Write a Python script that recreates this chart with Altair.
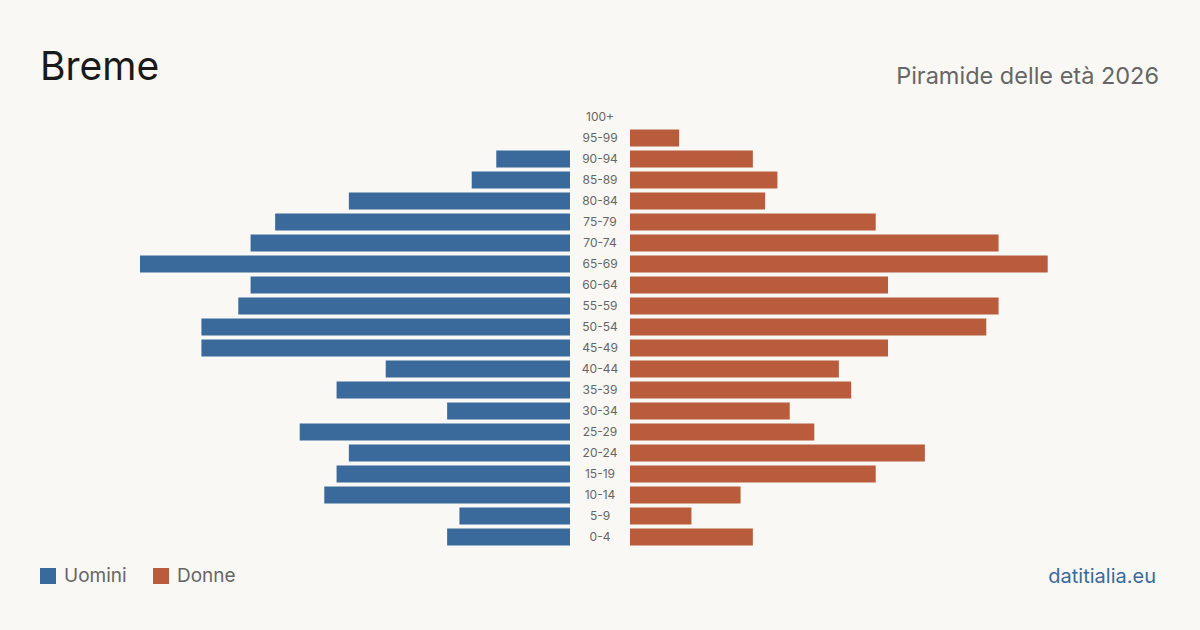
import altair as alt
import pandas as pd

ages = ["100+", "95-99", "90-94", "85-89", "80-84", "75-79", "70-74", "65-69", "60-64",
        "55-59", "50-54", "45-49", "40-44", "35-39", "30-34", "25-29", "20-24", "15-19",
        "10-14", "5-9", "0-4"]
uomini = [0, 0, 6, 8, 18, 24, 26, 35, 26, 27, 30, 30, 15, 19, 10, 22, 18, 19, 20, 9, 10]
donne = [0, 4, 10, 12, 11, 20, 30, 34, 21, 30, 29, 21, 17, 18, 13, 15, 24, 20, 9, 5, 10]

BLUE = "#3a6a9c"
ORANGE = "#b85c3c"
BG = "#f9f8f4"
GRAY = "#666666"
FONT = "Inter"

df = pd.DataFrame({"eta": ages, "uomini": uomini, "donne": donne})

PX = 430 / 35
XMAX = 570 / PX
H = 630
yenc = alt.Y("eta:N", sort=ages, axis=None,
             scale=alt.Scale(range=[106.5, 547.5], paddingInner=0.19, paddingOuter=0.095))

base = alt.Chart(df)

left_bars = base.mark_bar(color=BLUE).encode(
    x=alt.X("uomini:Q", axis=None, scale=alt.Scale(domain=[0, XMAX], reverse=True, nice=False)),
    y=yenc,
)

one = pd.DataFrame({"a": [0]})
title = alt.Chart(one).mark_text(text="Breme", font=FONT, fontSize=39, color="#1a1a1a",
                                 align="left", baseline="alphabetic").encode(
    x=alt.value(40), y=alt.value(80))
leg1 = alt.Chart(one).mark_rect(color=BLUE).encode(
    x=alt.value(40), x2=alt.value(56), y=alt.value(568), y2=alt.value(584))
leg1t = alt.Chart(one).mark_text(text="Uomini", font=FONT, fontSize=19, color=GRAY,
                                 align="left", baseline="middle").encode(
    x=alt.value(64), y=alt.value(576))
leg2 = alt.Chart(one).mark_rect(color=ORANGE).encode(
    x=alt.value(153), x2=alt.value(169), y=alt.value(568), y2=alt.value(584))
leg2t = alt.Chart(one).mark_text(text="Donne", font=FONT, fontSize=19, color=GRAY,
                                 align="left", baseline="middle").encode(
    x=alt.value(177), y=alt.value(576))

left = alt.layer(left_bars, title, leg1, leg1t, leg2, leg2t).properties(width=570, height=H)

mid = base.mark_text(font=FONT, fontSize=12, color=GRAY, align="center", baseline="middle").encode(
    x=alt.value(30), y=yenc, text="eta:N").properties(width=60, height=H)

right_bars = base.mark_bar(color=ORANGE).encode(
    x=alt.X("donne:Q", axis=None, scale=alt.Scale(domain=[0, XMAX], nice=False)),
    y=yenc,
)
sub = alt.Chart(one).mark_text(text="Piramide delle età 2026", font=FONT, fontSize=23.5, color=GRAY,
                               align="right", baseline="alphabetic").encode(
    x=alt.value(529), y=alt.value(84))
site = alt.Chart(one).mark_text(text="datitialia.eu", font=FONT, fontSize=20, color=BLUE,
                                align="right", baseline="alphabetic").encode(
    x=alt.value(526), y=alt.value(583))
right = alt.layer(right_bars, sub, site).properties(width=570, height=H)

chart = alt.hconcat(left, mid, right, spacing=0).properties(
    background=BG,
    padding=0,
).configure_view(stroke=None).configure_concat(spacing=0)

chart.save("out.html", embed_options={"renderer": "svg", "actions": False})
